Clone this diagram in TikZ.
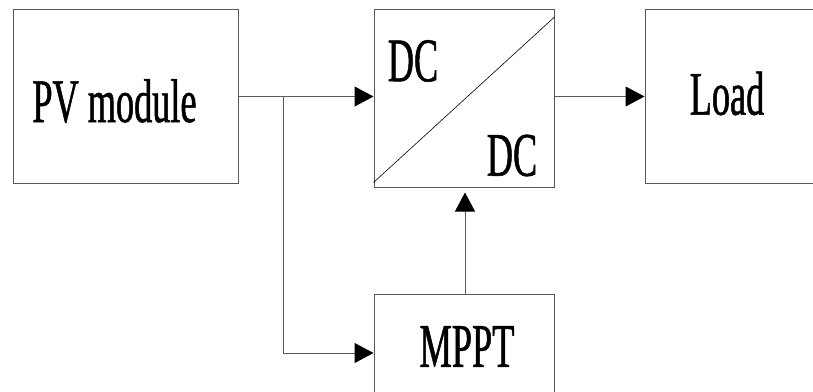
\documentclass[tikz,border=0pt]{standalone}
\usepackage{fontspec}
\setmainfont{Liberation Serif}[FakeStretch=0.585, FakeBold=0.8]
\usepackage{tikz}
\usetikzlibrary{arrows.meta, positioning}
\tikzstyle{block} = [rectangle, draw=black!65, line width=1pt, inner sep=0pt]
\tikzstyle{label_big} = [font=\fontsize{62pt}{70pt}\selectfont, inner sep=0pt]
\tikzstyle{arrow} = [draw=black!65, line width=1pt, -{Triangle[length=19pt, width=20pt, color=black]}]

\begin{document}
\begin{tikzpicture}
    \useasboundingbox (0pt,0pt) rectangle (813pt,-391pt);

    \node (pv) [block, minimum width=225pt, minimum height=174pt, label={[label_big, xshift=-11pt, yshift=-4.5pt]center:PV module}] at (125.5pt,-96.5pt) {};
    \node (dcdc) [block, minimum width=180pt, minimum height=177.5pt, right=135pt of pv.north east, anchor=north west] {};
    \node (load) [block, minimum width=180pt, minimum height=174pt, right=90pt of dcdc.north east, anchor=north west, label={[label_big, xshift=-8pt, yshift=3pt]center:Load}] {};
    \node (mppt) [block, minimum width=180pt, minimum height=105pt, below=106pt of dcdc.south, anchor=north, label={[label_big, xshift=3pt]center:MPPT}] {};

    \node (dc_in) [label_big] at ([xshift=39.5pt, yshift=-52pt]dcdc.north west) {DC};
    \node (dc_out) [label_big] at ([xshift=-42.5pt, yshift=32pt]dcdc.south east) {DC};
    \draw [black, line width=0.6pt] ([yshift=5pt]dcdc.south west) -- ([yshift=-8pt]dcdc.north east);

    \coordinate (split) at ([xshift=45pt]pv.east);
    \draw [arrow] (pv.east) -- (pv.east -| dcdc.west);
    \draw [arrow] (dcdc.east |- pv.east) -- (load.west |- pv.east);
    \draw [arrow] (split) |- ([yshift=-6.5pt]mppt.west);
    \draw [arrow] ([xshift=1pt]mppt.north) -- ([xshift=1pt, yshift=-5pt]dcdc.south);

\end{tikzpicture}
\end{document}
